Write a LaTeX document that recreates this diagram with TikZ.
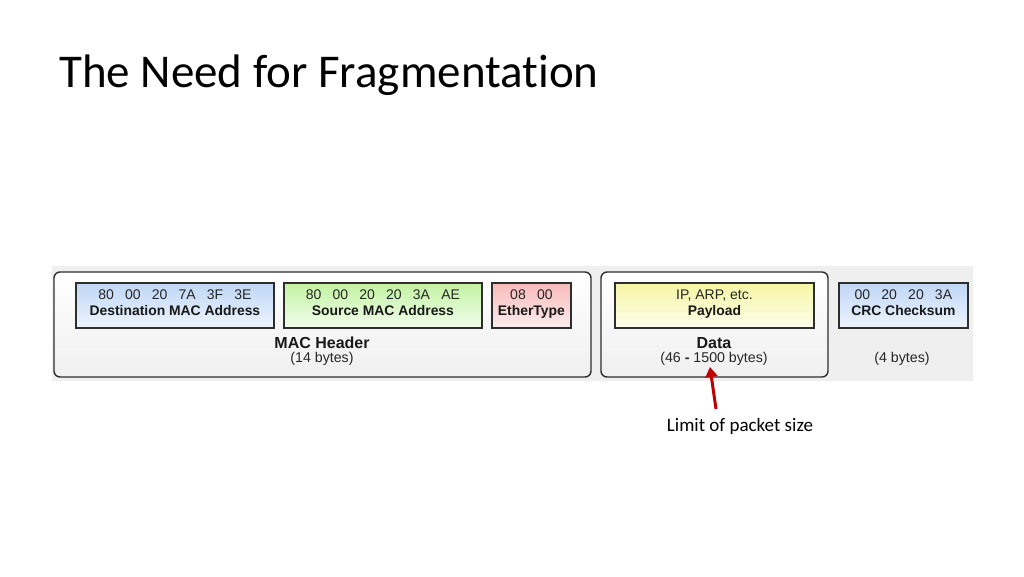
\documentclass[tikz,border=0pt]{standalone}
\usepackage{fontspec}
\setmainfont{Carlito}[Ligatures=NoCommon]
\newfontfamily\arialf{Liberation Sans}
\usetikzlibrary{arrows.meta}
\definecolor{bordergray}{HTML}{2E2E2E}
\definecolor{panelgray}{HTML}{EFEFEF}
\definecolor{arrowred}{HTML}{C00000}
\definecolor{blueT}{HTML}{BFD7F6}
\definecolor{blueB}{HTML}{EEF4FD}
\definecolor{greenT}{HTML}{C2F3A2}
\definecolor{greenB}{HTML}{F2FDEB}
\definecolor{pinkT}{HTML}{F8BABA}
\definecolor{pinkB}{HTML}{FDEDED}
\definecolor{yellowT}{HTML}{F6F6A4}
\definecolor{yellowB}{HTML}{FDFDEC}
\tikzset{
  field/.style={draw=bordergray, line width=1.8pt, minimum height=45, anchor=north west, inner sep=0pt},
  bluef/.style={field, top color=blueT, bottom color=blueB},
  greenf/.style={field, top color=greenT, bottom color=greenB},
  pinkf/.style={field, top color=pinkT, bottom color=pinkB},
  yellowf/.style={field, top color=yellowT, bottom color=yellowB},
  group/.style={draw=bordergray, line width=1.4pt, rounded corners=6, top color=white, bottom color=black!6},
  valtxt/.style={anchor=base, inner sep=0pt, font=\arialf\fontsize{14}{16}\selectfont, text=black!85},
  nametxt/.style={anchor=base, inner sep=0pt, font=\arialf\bfseries\fontsize{13.9}{16}\selectfont, text=black!90},
  caption/.style={anchor=base, inner sep=0pt, font=\arialf\fontsize{14.2}{16}\selectfont, text=black!85},
  capbold/.style={anchor=base, inner sep=0pt, font=\arialf\bfseries\fontsize{16}{17}\selectfont, text=black!90},
}
\newcommand{\gap}{\hspace{0.8em}}
\begin{document}
\begin{tikzpicture}[x=1pt,y=-1pt]
\useasboundingbox (0,0) rectangle (1024,576);
\node[anchor=base west, inner sep=0pt, font=\fontsize{47}{54}\selectfont] (title) at (59,87) {The Need for Fragmentation};
\fill[panelgray] (52,266) rectangle (973,381);
\draw[group] (54,272) rectangle (591,377);
\draw[group] (601,272) rectangle (828,377);
\node[bluef, minimum width=198] (dst) at (75,282) {};
\node[greenf, minimum width=198] (src) at (283,282) {};
\node[pinkf, minimum width=79] (eth) at (491,282) {};
\node[yellowf, minimum width=199] (pay) at (614,282) {};
\node[bluef, minimum width=129] (crc) at (838,282) {};
\node[valtxt] (dstv) at (dst.north |- 0,299) {80\gap 00\gap 20\gap 7A\gap 3F\gap 3E};
\node[nametxt] (dstn) at (dst.north |- 0,315.5) {Destination MAC Address};
\node[valtxt] (srcv) at (src.north |- 0,299) {80\gap 00\gap 20\gap 20\gap 3A\gap AE};
\node[nametxt] (srcn) at (src.north |- 0,315.5) {Source MAC Address};
\node[valtxt] (ethv) at (eth.north |- 0,299) {08\gap 00};
\node[nametxt] (ethn) at (eth.north |- 0,315.5) {EtherType};
\node[valtxt] (payv) at (pay.north |- 0,299) {IP, ARP, etc.};
\node[nametxt] (payn) at (pay.north |- 0,315.5) {Payload};
\node[valtxt] (crcv) at (crc.north |- 0,299) {00\gap 20\gap 20\gap 3A};
\node[nametxt] (crcn) at (crc.north |- 0,315.5) {CRC Checksum};
\node[capbold] (mach) at (322,348) {MAC Header};
\node[caption] (macb) at (322,362) {(14 bytes)};
\node[capbold] (datah) at (714,348) {Data};
\node[caption] (datab) at (714,362) {(46 \textbf{-} 1500 bytes)};
\node[caption] (crcb) at (902,362) {(4 bytes)};
\node[font=\fontsize{19}{22}\selectfont] (lim) at (740,426) {Limit of packet size};
\coordinate (arrs) at (716,409);
\coordinate (arre) at (710,367);
\draw[arrowred, line width=3pt, -{Triangle[length=10pt,width=12pt]}] (arrs) -- (arre);
\end{tikzpicture}
\end{document}
